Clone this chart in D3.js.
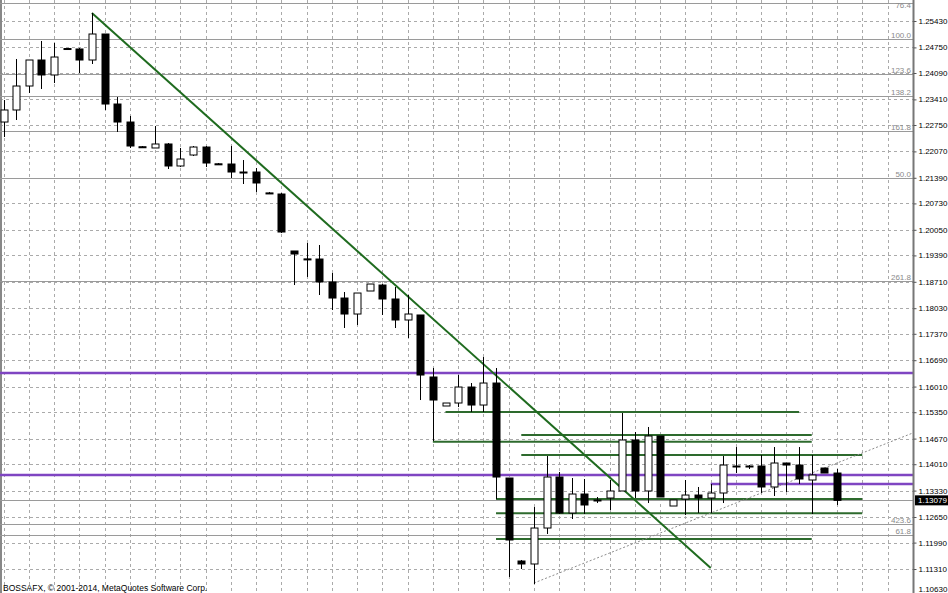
<!DOCTYPE html>
<html><head><meta charset="utf-8">
<script src="https://cdn.jsdelivr.net/npm/d3@7"></script>
<style>body{margin:0;background:#fff;overflow:hidden}svg{display:block}text{font-family:"Liberation Sans",Arial,sans-serif}</style>
</head><body>
<svg id="c" width="948" height="593"></svg>
<script>
// ---- data ----
const opens  = [1.22827,1.23137,1.23755,1.24425,1.24039,1.24721,1.24709,1.24425,1.25095,1.23291,1.22827,1.22190,1.22158,1.22261,1.21694,1.21977,1.22183,1.21750,1.21745,1.21539,1.21539,1.21000,1.20972,1.19504,1.19300,1.19297,1.18705,1.18292,1.17880,1.18473,1.18627,1.18267,1.17726,1.17855,1.16257,1.15510,1.15587,1.15999,1.15535,1.16102,1.13654,1.11516,1.11439,1.12366,1.13680,1.12753,1.13242,1.13088,1.13139,1.13320,1.14634,1.13320,1.14737,1.12933,1.13113,1.13216,1.13139,1.13268,1.13964,1.13964,1.13964,1.13423,1.14041,1.13989,1.13603,1.13912,1.13783];
const highs  = [1.23394,1.24451,1.24425,1.24915,1.24863,1.24734,1.24734,1.25636,1.25095,1.23472,1.22982,1.22209,1.22724,1.22286,1.22158,1.22209,1.22209,1.21771,1.22209,1.21848,1.21642,1.21024,1.20998,1.19504,1.19710,1.19658,1.18937,1.18447,1.18421,1.18653,1.18653,1.18576,1.18370,1.17855,1.16489,1.15587,1.16308,1.16102,1.16772,1.16489,1.13654,1.11542,1.12907,1.14221,1.13809,1.13654,1.13629,1.13165,1.13603,1.15329,1.14840,1.14969,1.14737,1.13088,1.13603,1.13423,1.13500,1.14221,1.14453,1.13989,1.14247,1.14453,1.14041,1.14453,1.14247,1.13912,1.13886];
const lows   = [1.22441,1.22879,1.23575,1.23678,1.23832,1.24683,1.24090,1.24322,1.23137,1.22570,1.22158,1.22158,1.22158,1.21616,1.21668,1.21951,1.21668,1.21720,1.21385,1.21230,1.21024,1.20972,1.19967,1.18627,1.18834,1.18370,1.17983,1.17520,1.17597,1.18473,1.17855,1.17520,1.17262,1.15664,1.14608,1.15510,1.15484,1.15355,1.15355,1.13113,1.11104,1.11310,1.10923,1.12212,1.12727,1.12598,1.12727,1.13010,1.12830,1.13320,1.13139,1.13010,1.13165,1.12933,1.12701,1.12753,1.12753,1.13010,1.13783,1.13886,1.13268,1.13191,1.13294,1.13500,1.12727,1.13783,1.12959];
const closes = [1.23137,1.23755,1.24425,1.24039,1.24502,1.24696,1.24425,1.25095,1.23291,1.22827,1.22209,1.22175,1.22261,1.21694,1.21874,1.22183,1.21771,1.21740,1.21539,1.21530,1.21256,1.20990,1.19993,1.19426,1.19290,1.18705,1.18292,1.17880,1.18421,1.18653,1.18267,1.17726,1.17880,1.16308,1.15664,1.15587,1.15999,1.15535,1.16102,1.13680,1.12057,1.11439,1.12366,1.13680,1.12753,1.13242,1.12959,1.13080,1.13320,1.14634,1.13320,1.14737,1.13165,1.13088,1.13216,1.13139,1.13268,1.13989,1.13955,1.13958,1.13423,1.14041,1.13989,1.13629,1.13732,1.13783,1.13079];

const tickLabels = ["1.25430","1.24750","1.24090","1.23410","1.22750","1.22070","1.21390","1.20730","1.20050","1.19390","1.18710","1.18030","1.17370","1.16690","1.16010","1.15350","1.14670","1.14010","1.13330","1.12650","1.11990","1.11310","1.10630"];

const fibPrices = [1.25894,1.24979,1.24064,1.23497,1.22596,1.21385,1.18731,1.12482,1.12186];
const fibLabels = ["76.4","100.0","123.6","138.2","161.8","50.0","261.8","423.6","61.8"];

const greenPrices = [1.15355,1.14762,1.14590,1.14247,1.13113,1.12745,1.12083];
const greenStart  = [35,41,34,41,39,39,39];
const greenEnd    = [63,64,64,68,68,68,64];

const purplePrices = [1.16360,1.13732];
const purpleShort = {price:1.13500, start:56, end:72};

const trendDown = [{i:7,p:1.25636},{i:56,p:1.11335}];
const trendUp   = [{i:42,p:1.10949},{i:72,p:1.14814}];

const bidPrice = 1.13079;
const copyright = "BOSSAFX, © 2001-2014, MetaQuotes Software Corp.";

// ---- scales ----
const svg = d3.select("#c");
const axisX = 913;
const x = d3.scaleLinear().domain([0,66]).range([3.5,837]);
const y = d3.scaleLinear().domain([1.25430,1.11310]).range([21,569]);
const tickVals = tickLabels.map(Number);

// vertical dashed grid
const vg = d3.range(0,73,2);
svg.append("g").selectAll("line").data(vg).join("line")
  .attr("x1",d=>Math.round(x(d))+0.5).attr("x2",d=>Math.round(x(d))+0.5)
  .attr("y1",0).attr("y2",593)
  .attr("stroke","#aaaaaa").attr("stroke-width",1).attr("stroke-dasharray","3,3");
// horizontal dashed grid
svg.append("g").selectAll("line").data(tickVals).join("line")
  .attr("x1",0).attr("x2",axisX)
  .attr("y1",d=>Math.round(y(d))+0.5).attr("y2",d=>Math.round(y(d))+0.5)
  .attr("stroke","#aaaaaa").attr("stroke-width",1).attr("stroke-dasharray","3,3");

// left border
svg.append("line").attr("x1",1).attr("x2",1).attr("y1",0).attr("y2",593).attr("stroke","#888").attr("stroke-width",2);

// fib levels
const fg = svg.append("g");
fg.selectAll("line").data(fibPrices).join("line")
  .attr("x1",0).attr("x2",axisX)
  .attr("y1",d=>Math.round(y(d))+0.5).attr("y2",d=>Math.round(y(d))+0.5)
  .attr("stroke","#9a9a9a").attr("stroke-width",1);
fg.selectAll("text").data(fibPrices).join("text")
  .attr("x",911).attr("y",d=>Math.max(8,Math.round(y(d))-1.5))
  .attr("text-anchor","end").attr("font-size",8).attr("fill","#8a8a8a")
  .text((d,i)=>fibLabels[i]);

// bid line
svg.append("line").attr("x1",0).attr("x2",axisX)
  .attr("y1",Math.round(y(bidPrice))+0.5).attr("y2",Math.round(y(bidPrice))+0.5)
  .attr("stroke","#9a9a9a").attr("stroke-width",1);

// purple lines
svg.append("g").selectAll("line").data(purplePrices).join("line")
  .attr("x1",0).attr("x2",axisX).attr("y1",d=>y(d)).attr("y2",d=>y(d))
  .attr("stroke","#7f45c2").attr("stroke-width",2.5);
svg.append("line").attr("x1",x(purpleShort.start)).attr("x2",axisX)
  .attr("y1",y(purpleShort.price)).attr("y2",y(purpleShort.price))
  .attr("stroke","#7f45c2").attr("stroke-width",2.5);

// green horizontal lines
svg.append("g").selectAll("line").data(greenPrices).join("line")
  .attr("x1",(d,i)=>x(greenStart[i])).attr("x2",(d,i)=>x(greenEnd[i]))
  .attr("y1",d=>y(d)).attr("y2",d=>y(d))
  .attr("stroke","#2d6a2d").attr("stroke-width",2);

// trend lines
svg.append("line").attr("x1",x(trendDown[0].i)).attr("y1",y(trendDown[0].p))
  .attr("x2",x(trendDown[1].i)).attr("y2",y(trendDown[1].p))
  .attr("stroke","#1f6b1f").attr("stroke-width",2);
svg.append("line").attr("x1",x(trendUp[0].i)).attr("y1",y(trendUp[0].p))
  .attr("x2",x(trendUp[1].i)).attr("y2",y(trendUp[1].p))
  .attr("stroke","#8c8c8c").attr("stroke-width",1).attr("stroke-dasharray","2,2");

// candles
const idx = d3.range(opens.length);
const cg = svg.append("g");
cg.selectAll("line").data(idx).join("line")
  .attr("x1",i=>Math.round(x(i))+0.5).attr("x2",i=>Math.round(x(i))+0.5)
  .attr("y1",i=>y(highs[i])).attr("y2",i=>y(lows[i]))
  .attr("stroke","#000").attr("stroke-width",1);
cg.selectAll("rect").data(idx).join("rect")
  .attr("x",i=>Math.round(x(i))-3)
  .attr("width",7)
  .attr("y",i=>Math.min(y(opens[i]),y(closes[i])))
  .attr("height",i=>Math.max(1,Math.abs(y(opens[i])-y(closes[i]))))
  .attr("fill",i=>closes[i]>=opens[i]?"#fff":"#000")
  .attr("stroke","#000").attr("stroke-width",1);

// right axis
svg.append("rect").attr("x",axisX+1).attr("y",0).attr("width",948-axisX).attr("height",593).attr("fill","#fff");
const ax = svg.append("g").attr("transform",`translate(${axisX+0.5},0)`)
  .call(d3.axisRight(y).tickValues(tickVals).tickSize(3).tickFormat((d,i)=>tickLabels[i]));
ax.select(".domain").attr("stroke","#777").attr("stroke-width",2).attr("d","M0,0V593");
ax.selectAll(".tick line").attr("stroke","#555");
ax.selectAll(".tick text").attr("font-size",8).attr("fill","#000").attr("x",5)
  .attr("font-family","Liberation Sans, Arial, sans-serif")
  .attr("dy",(d)=>y(d)>585?"-0.5em":"0.32em");

// bid label
const by = y(bidPrice);
svg.append("rect").attr("x",axisX+2).attr("y",by-5).attr("width",948-axisX-2).attr("height",10).attr("fill","#000");
svg.append("text").attr("x",axisX+5).attr("y",by+3).attr("font-size",8).attr("fill","#fff").text(bidPrice.toFixed(5));

// copyright
svg.append("text").attr("x",3).attr("y",591).attr("font-size",8.5).attr("fill","#000").text(copyright);
</script>
</body></html>
